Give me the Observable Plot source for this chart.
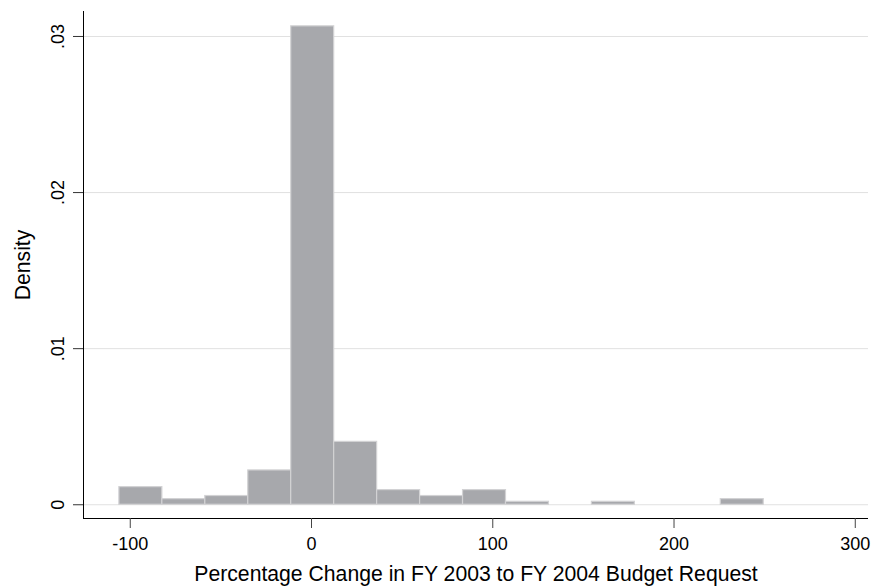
<!DOCTYPE html>
<html>
<head>
<meta charset="utf-8">
<script src="https://cdn.jsdelivr.net/npm/d3@7"></script>
<script src="https://cdn.jsdelivr.net/npm/@observablehq/plot@0.6"></script>
<style>
  html, body { margin: 0; padding: 0; background: #fff; }
</style>
</head>
<body>
<div id="chart"></div>
<script>
// Histogram bins: left and right edges (percent change) and density heights
const binLeft  = [-106, -82.3, -58.6, -34.9, -11.2, 12.5, 36.2, 59.9, 83.6, 107.3, 131, 154.7, 178.4, 202.1, 225.8];
const binRight = [-82.3, -58.6, -34.9, -11.2, 12.5, 36.2, 59.9, 83.6, 107.3, 131, 154.7, 178.4, 202.1, 225.8, 249.5];
const density  = [0.00113, 0.00036, 0.00056, 0.0022, 0.03065, 0.00403, 0.00094, 0.00056, 0.00094, 0.00019, 0, 0.00019, 0, 0, 0.00036];

const xTicks = [-100, 0, 100, 200, 300];
const yTicks = [0, 0.01, 0.02, 0.03];
const yTickLabels = ["0", ".01", ".02", ".03"];
const xTitle = "Percentage Change in FY 2003 to FY 2004 Budget Request";
const yTitle = "Density";

const xDomain = [-125.8, 307.3];
const yDomain = [-0.00088, 0.0316];

const bars = density
  .map((d, i) => ({x1: binLeft[i], x2: binRight[i], base: 0, top: d}))
  .filter(b => b.top > 0);

const chart = Plot.plot({
  width: 874,
  height: 586,
  marginLeft: 83,
  marginRight: 6,
  marginTop: 11,
  marginBottom: 68,
  style: {
    fontFamily: "'Liberation Sans', Arial, Helvetica, sans-serif",
    fontSize: "18px",
    color: "#000",
    background: "#fff"
  },
  x: {domain: xDomain},
  y: {domain: yDomain},
  marks: [
    Plot.gridY(yTicks, {stroke: "#e1e1e1", strokeOpacity: 1}),
    Plot.rect(bars, {
      x1: "x1", x2: "x2", y1: "base", y2: "top",
      fill: "#a7a8ac", stroke: "#d2d2d4", strokeWidth: 1.2
    }),
    Plot.ruleX([xDomain[0]], {stroke: "#000"}),
    Plot.ruleY([yDomain[0]], {stroke: "#000"}),
    Plot.axisX(xTicks, {
      tickSize: 10, tickPadding: 9, stroke: "#444", fontSize: 18, label: null,
      tickFormat: d => String(d)
    }),
    Plot.axisY(yTicks, {
      tickSize: 10, tickPadding: 10, tickRotate: -90, stroke: "#333", fontSize: 18, label: null,
      tickFormat: d => yTickLabels[yTicks.indexOf(d)]
    }),
    Plot.text([xTitle], {
      text: d => d, frameAnchor: "bottom", textAnchor: "middle", lineAnchor: "bottom",
      dy: 62, fontSize: 21.2, fill: "#000"
    }),
    Plot.text([yTitle], {
      text: d => d, frameAnchor: "left", textAnchor: "middle", lineAnchor: "bottom",
      rotate: -90, dx: -54, fontSize: 21.2, fill: "#000"
    })
  ]
});

document.getElementById("chart").appendChild(chart);
</script>
</body>
</html>
